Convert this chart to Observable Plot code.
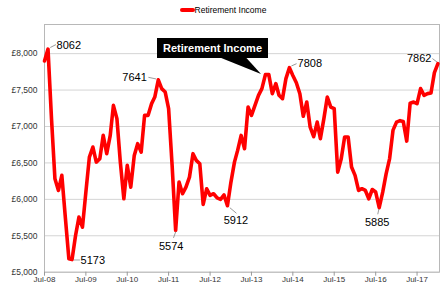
<!DOCTYPE html>
<html><head><meta charset="utf-8">
<script src="https://cdn.jsdelivr.net/npm/d3@7"></script>
<script src="https://cdn.jsdelivr.net/npm/@observablehq/plot@0.6"></script>
<style>
body{margin:0;background:#fff;font-family:"Liberation Sans",Arial,sans-serif;}
#wrap{position:relative;width:446px;height:291px;overflow:hidden;}
#legend{position:absolute;left:0;top:4px;width:446px;display:flex;justify-content:center;align-items:center;font-size:8.5px;color:#000;height:12px;}
#legend .sw{display:inline-block;width:15px;height:4px;background:#f00;border-radius:2px;}
#callout{position:absolute;left:157px;top:38px;width:111px;height:20px;background:#000;color:#fff;font-weight:bold;font-size:11px;line-height:20px;text-align:center;}
#overlay{position:absolute;left:0;top:0;pointer-events:none;}
</style></head><body>
<div id="wrap">
  <div id="chart"></div>
  <div id="legend"><span class="sw"></span><span>Retirement Income</span></div>
  <svg id="overlay" width="446" height="291"><polygon points="220,57.5 246,57.5 261,74" fill="#000"/></svg>
  <div id="callout">Retirement Income</div>
</div>
<script>
const months = [
 "2008-07","2008-08","2008-09","2008-10","2008-11","2008-12",
 "2009-01","2009-02","2009-03","2009-04","2009-05","2009-06","2009-07","2009-08","2009-09","2009-10","2009-11","2009-12",
 "2010-01","2010-02","2010-03","2010-04","2010-05","2010-06","2010-07","2010-08","2010-09","2010-10","2010-11","2010-12",
 "2011-01","2011-02","2011-03","2011-04","2011-05","2011-06","2011-07","2011-08","2011-09","2011-10","2011-11","2011-12",
 "2012-01","2012-02","2012-03","2012-04","2012-05","2012-06","2012-07","2012-08","2012-09","2012-10","2012-11","2012-12",
 "2013-01","2013-02","2013-03","2013-04","2013-05","2013-06","2013-07","2013-08","2013-09","2013-10","2013-11","2013-12",
 "2014-01","2014-02","2014-03","2014-04","2014-05","2014-06","2014-07","2014-08","2014-09","2014-10","2014-11","2014-12",
 "2015-01","2015-02","2015-03","2015-04","2015-05","2015-06","2015-07","2015-08","2015-09","2015-10","2015-11","2015-12",
 "2016-01","2016-02","2016-03","2016-04","2016-05","2016-06","2016-07","2016-08","2016-09","2016-10","2016-11","2016-12",
 "2017-01","2017-02","2017-03","2017-04","2017-05","2017-06","2017-07","2017-08","2017-09","2017-10","2017-11","2017-12",
 "2018-01"
];
const income = [
 7900,8062,7100,6283,6122,6329,
 5750,5184,5173,5504,5756,5618,6099,6580,6718,6511,6558,6878,
 6627,6878,7290,7108,6511,6008,6466,6168,6603,6764,6649,7153,
 7153,7314,7404,7641,7520,7473,7245,6466,5574,6237,6077,6168,
 6305,6627,6535,6489,5930,6146,6054,6077,6020,6000,6060,5912,
 6237,6511,6672,6878,6695,7267,7153,7290,7428,7520,7712,7712,
 7451,7589,7428,7382,7657,7808,7700,7600,7450,7140,7336,6990,
 6860,7061,6833,7108,7405,7267,7245,6374,6558,6855,6855,6443,
 6329,6122,6146,6122,6008,6135,6100,5885,6099,6350,6560,6950,
 7060,7080,7070,6800,7320,7336,7314,7520,7428,7451,7460,7740,
 7862
];
const yTicks = [5000,5500,6000,6500,7000,7500,8000];
const xTickLabels = ["Jul-08","Jul-09","Jul-10","Jul-11","Jul-12","Jul-13","Jul-14","Jul-15","Jul-16","Jul-17"];
const labelledMonths = ["2008-08","2009-03","2011-04","2011-09","2012-12","2014-06","2016-08","2018-01"];

const rows = months.map((m, i) => ({key: m, date: new Date(m + "-01T00:00:00Z"), value: income[i]}));
const parseTick = d3.utcParse("%b-%y");
const xTicks = xTickLabels.map(parseTick);

// label layout (pixel offsets from the labelled point)
const layout = {
 "2008-08": {anchor:"start",  dx:8.6,  dy:-3.8, lx:2.6,  ly:-1.8, len:5.6, rot:63},
 "2009-03": {anchor:"start",  dx:8.5,  dy:0.9,  lx:2.0,  ly:0.4,  len:5.5, rot:90},
 "2011-04": {anchor:"end",    dx:-11.5,dy:-2.7, lx:-9.5, ly:-2.4, len:7.2, rot:102},
 "2011-09": {anchor:"middle", dx:-4.4, dy:15.8, lx:0,    ly:1.6,  len:5.9, rot:200},
 "2012-12": {anchor:"middle", dx:8.5,  dy:14.7, lx:2.7,  ly:2.2,  len:7.8, rot:130},
 "2014-06": {anchor:"start",  dx:8.1,  dy:-4,   lx:2.3,  ly:-1.8, len:4.9, rot:66},
 "2016-08": {anchor:"middle", dx:-2,   dy:14.4, lx:-0.4, ly:1.7,  len:4.6, rot:192},
 "2018-01": {anchor:"end",    dx:-6.5, dy:-5.1, lx:-1.2, ly:-1.9, len:5,   rot:307}
};
const leader = {draw(ctx, l) { ctx.moveTo(0, 0); ctx.lineTo(0, -l); }};

const annMarks = labelledMonths.flatMap(m => {
  const a = layout[m];
  const sel = rows.filter(d => d.key === m);
  return [
    Plot.vector(sel, {x: "date", y: "value", length: a.len, rotate: a.rot, anchor: "start", shape: leader,
      dx: a.lx, dy: a.ly, stroke: "#8c8c8c", strokeWidth: 0.8}),
    Plot.text(sel, {x: "date", y: "value", text: d => String(d.value), textAnchor: a.anchor,
      dx: a.dx, dy: a.dy, fontSize: 11, fill: "#000"})
  ];
});

const chart = Plot.plot({
  width: 446, height: 291,
  marginLeft: 44, marginRight: 7, marginTop: 24, marginBottom: 19.3,
  style: {fontFamily: "Liberation Sans, Arial, sans-serif", fontSize: "8.5px", color: "#333", background: "#fff"},
  x: {type: "utc", domain: [new Date("2008-07-01T00:00:00Z"), new Date("2018-01-15T00:00:00Z")]},
  y: {domain: [5000, 8400]},
  marks: [
    Plot.gridY(yTicks, {stroke: "#d4d4d4", strokeOpacity: 1}),
    Plot.frame({stroke: "#b8b8b8"}),
    Plot.axisY(yTicks, {tickSize: 0, tickPadding: 7, tickFormat: d => "£" + d3.format(",")(d), fontSize: 8.5, label: null}),
    Plot.axisX(xTicks, {tickSize: 4, tickPadding: 0.5, tickFormat: d3.utcFormat("%b-%y"), fontSize: 8, stroke: "#999", label: null}),
    Plot.line(rows, {x: "date", y: "value", stroke: "#f00", strokeWidth: 3.6, strokeLinejoin: "round", strokeLinecap: "round"}),
    ...annMarks
  ]
});
document.getElementById("chart").appendChild(chart);
</script>
</body></html>
